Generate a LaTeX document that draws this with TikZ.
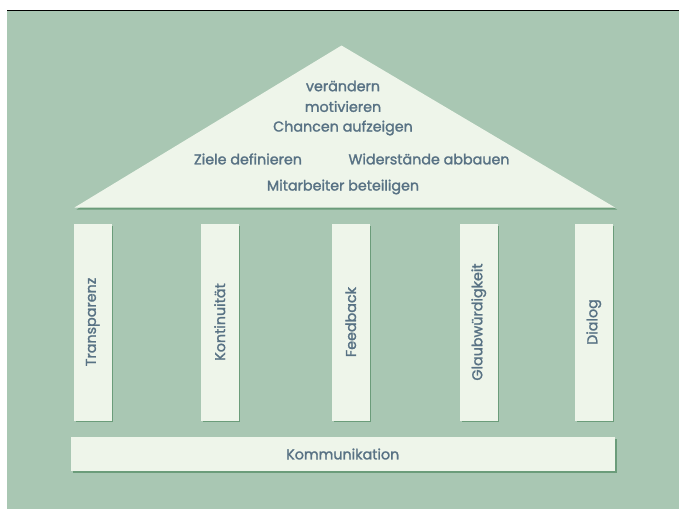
\documentclass[tikz,border=0pt]{standalone}
\usepackage{fontspec}
\setmainfont{Poppins}[FakeBold=1.6]
\definecolor{bg}{HTML}{A9C7B3}
\definecolor{face}{HTML}{EEF5EA}
\definecolor{shade}{HTML}{6B9C7A}
\definecolor{ink}{HTML}{587284}
\tikzset{
  lbl/.style={text=ink, font=\fontsize{14.3}{16}\selectfont, inner sep=0pt},
  pillarlbl/.style={lbl, rotate=90},
  faceshape/.style={fill=face, draw=none},
  shadowshape/.style={fill=shade, draw=none},
}
\begin{document}
\begin{tikzpicture}[x=1pt,y=-1pt]
\useasboundingbox (0,0) rectangle (679,509);
\fill[white] (0,0) rectangle (679,509);
\fill[bg] (7,10) rectangle (679,509);
\draw[black, line width=1pt] (7,10) -- (679,10);
% roof
\fill[shadowshape] (76.5,209.5) -- (343.5,47.5) -- (617,209.5) -- cycle;
\fill[faceshape] (74.5,207.5) -- (341.5,45.5) -- (615,207.5) -- cycle;
\node[lbl] (r1) at (343,86) {verändern};
\node[lbl] (r2) at (343,106.5) {motivieren};
\node[lbl] (r3) at (343,128) {Chancen aufzeigen};
\node[lbl] (r4) at (248,159) {Ziele definieren};
\node[lbl] (r5) at (429,159) {Widerstände abbauen};
\node[lbl] (r6) at (343,187) {Mitarbeiter beteiligen};
% pillars
\foreach \x/\t/\n in {74/Transparenz/p1, 201/Kontinuität/p2, 332/Feedback/p3, 460/Glaubwürdigkeit/p4, 575/Dialog/p5}{
  \fill[shadowshape] (\x+1.8,225.8) rectangle (\x+39.3,422.3);
  \fill[faceshape] (\x,224) rectangle (\x+37.5,420.5);
  \node[pillarlbl] (\n) at (\x+18.75,322) {\t};
}
% base
\fill[shadowshape] (73,439) rectangle (616.5,472.5);
\fill[faceshape] (71,437) rectangle (614.5,470.5);
\node[lbl] (base) at (342.75,454) {Kommunikation};
\end{tikzpicture}
\end{document}
